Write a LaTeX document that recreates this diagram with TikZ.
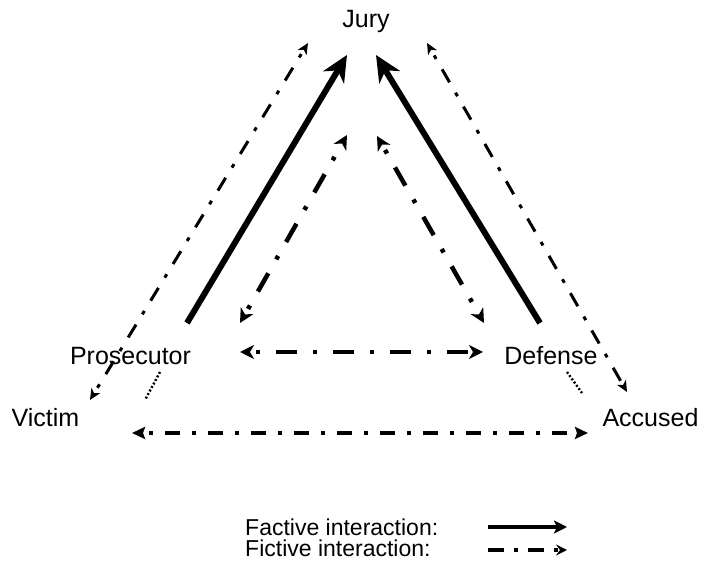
\documentclass[tikz,border=0pt]{standalone}
\usepackage{fontspec}
\setmainfont{Liberation Sans}
\usetikzlibrary{arrows.meta}

\tikzset{
	lbl/.style={inner sep=0pt, anchor=base, font=\fontsize{25}{30}\selectfont},
	legendtext/.style={inner sep=0pt, anchor=base west, font=\fontsize{23}{28}\selectfont},
	factive/.style={line width=6pt, -{Stealth[length=26pt, width=24pt, inset=8pt]}},
	fictivein/.style={line width=4.5pt, dash pattern=on 4pt off 16pt on 21pt off 16pt, dash phase=50pt,
		{Stealth[length=14pt, width=14pt, inset=4pt]}-{Stealth[length=14pt, width=14pt, inset=4pt]}},
	fictiveout/.style={line width=3pt, dash pattern=on 4pt off 12pt on 15pt off 12pt, dash phase=36pt,
		{Stealth[length=11pt, width=10pt, inset=3pt]}-{Stealth[length=11pt, width=10pt, inset=3pt]}},
	fictivelow/.style={line width=3.5pt, dash pattern=on 4pt off 12pt on 15pt off 12pt, dash phase=36pt,
		{Stealth[length=13pt, width=12pt, inset=2pt]}-{Stealth[length=13pt, width=12pt, inset=2pt]}},
	link/.style={line width=2.4pt, dash pattern=on 2pt off 2pt}
}

\begin{document}
\begin{tikzpicture}[x=1pt, y=1pt]
	\useasboundingbox (0,0) rectangle (704,569);

	\node[lbl] (jury) at (366,541) {Jury};
	\node[lbl] (prosecutor) at (130.5,204) {Prosecutor};
	\node[lbl] (defense) at (551,204) {Defense};
	\node[lbl] (victim) at (45.5,142) {Victim};
	\node[lbl] (accused) at (650.5,142) {Accused};

	% factive
	\draw[factive] ([xshift=56.5pt, yshift=42pt]prosecutor.base) -- ([xshift=-19pt, yshift=-27pt]jury.base);
	\draw[factive] ([xshift=-11pt, yshift=42pt]defense.base) -- ([xshift=10pt, yshift=-27pt]jury.base);

	% fictive
	\draw[fictivein] ([xshift=109.5pt, yshift=42pt]prosecutor.base) -- ([xshift=-19pt, yshift=-107pt]jury.base);
	\draw[fictivein] ([xshift=11pt, yshift=-108pt]jury.base) -- ([xshift=-67pt, yshift=42pt]defense.base);
	\draw[fictivein] ([xshift=109.5pt, yshift=13pt]prosecutor.base) -- ([xshift=-68pt, yshift=13pt]defense.base);
	\draw[fictiveout] ([xshift=44.5pt, yshift=27pt]victim.base) -- ([xshift=-58pt, yshift=-15pt]jury.base);
	\draw[fictiveout] ([xshift=61pt, yshift=-15pt]jury.base) -- ([xshift=-23.5pt, yshift=35pt]accused.base);
	\draw[fictivelow] ([xshift=86.5pt, yshift=-6pt]victim.base) -- ([xshift=-62.5pt, yshift=-6pt]accused.base);

	\draw[link] ([xshift=29.5pt, yshift=-7pt]prosecutor.base) -- ([xshift=99.5pt, yshift=27pt]victim.base);
	\draw[link] ([xshift=16pt, yshift=-7pt]defense.base) -- ([xshift=-68.5pt, yshift=34pt]accused.base);

	% legend
	\node[legendtext] (factivetext) at (245,33) {Factive interaction:};
	\node[legendtext] (fictivetext) at (245,12) {Fictive interaction:};
	\coordinate (fa1) at (488,42);
	\coordinate (fa2) at (567,42);
	\coordinate (fi1) at (488,19);
	\coordinate (fi2) at (567,19);
	\draw[line width=4pt, -{Stealth[length=13pt, width=13pt, inset=3pt]}] (fa1) -- (fa2);
	\draw[line width=4.5pt, dash pattern=on 16pt off 10pt on 4pt off 10pt, -{Stealth[length=11pt, width=11pt, inset=4pt]}] (fi1) -- (fi2);
\end{tikzpicture}
\end{document}
